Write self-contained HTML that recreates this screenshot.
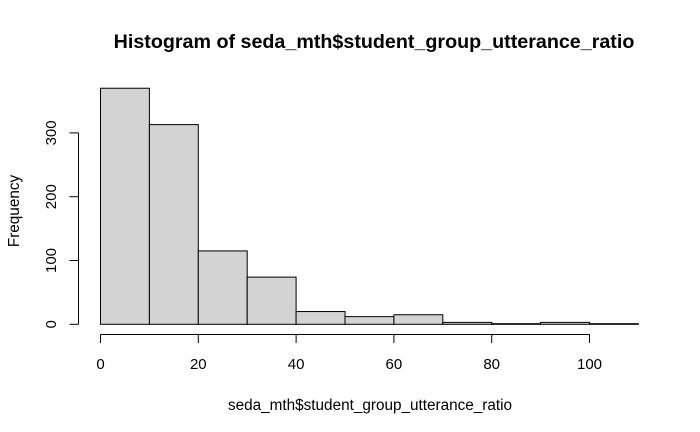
<!DOCTYPE html>
<html><head><meta charset="utf-8"><style>
html,body{margin:0;padding:0;background:#fff;}
svg{display:block;font-family:"Liberation Sans",Arial,sans-serif;}
</style></head><body>
<svg id="chart" width="700" height="432" viewBox="0 0 700 432">
<text x="374" y="48" text-anchor="middle" font-size="19.7" font-weight="bold">Histogram of seda_mth$student_group_utterance_ratio</text>
<text x="370" y="410" text-anchor="middle" font-size="15.3">seda_mth$student_group_utterance_ratio</text>
<text transform="translate(19,211) rotate(-90)" text-anchor="middle" font-size="15.3">Frequency</text>
<g id="bars"></g><g id="xaxis"></g><g id="yaxis"></g>
</svg>
<script>
const binStarts=[0,10,20,30,40,50,60,70,80,90,100];
const counts=[370,313,115,74,20,12,15,3,1,3,1];
const binWidth=10;
const xTicks=[0,20,40,60,80,100];
const yTicks=[0,100,200,300];
const NS="http://www.w3.org/2000/svg";
const xs=v=>100.5+v*4.89;
const ys=v=>324.3-v*0.638;
function mk(t,a,p){const e=document.createElementNS(NS,t);for(const k in a)e.setAttribute(k,a[k]);p.appendChild(e);return e;}
const bars=document.getElementById('bars');
binStarts.forEach((b,i)=>{
 const r=mk('rect',{x:xs(b),y:ys(counts[i]),width:xs(b+binWidth)-xs(b),height:ys(0)-ys(counts[i]),fill:'#d3d3d3',stroke:'#000','stroke-width':1},bars);
 
 
});
const xa=document.getElementById('xaxis');
const xl=mk('line',{x1:xs(xTicks[0]),x2:xs(xTicks[xTicks.length-1]),y1:334.5,y2:334.5,stroke:'#000'},xa);


xTicks.forEach(t=>{
 mk('line',{x1:xs(t),x2:xs(t),y1:334.5,y2:343,stroke:'#000'},xa);
 const tx=mk('text',{x:xs(t),y:369,'text-anchor':'middle','font-size':15},xa);
 tx.textContent=t;
 
 
});
const ya=document.getElementById('yaxis');
const yl=mk('line',{x1:78.5,x2:78.5,y1:ys(yTicks[0]),y2:ys(yTicks[yTicks.length-1]),stroke:'#000'},ya);


yTicks.forEach(t=>{
 mk('line',{x1:69.5,x2:78.5,y1:ys(t),y2:ys(t),stroke:'#000'},ya);
 const tx=mk('text',{transform:'translate(56,'+ys(t)+') rotate(-90)','text-anchor':'middle','font-size':15},ya);
 tx.textContent=t;
 
 
});
</script>
</body></html>
